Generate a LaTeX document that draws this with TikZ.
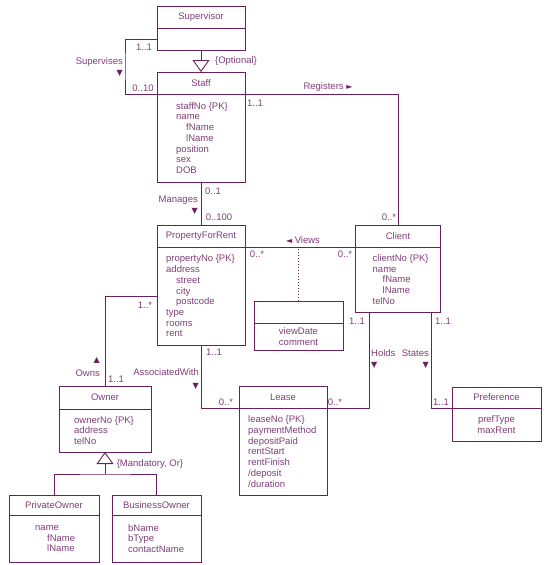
\documentclass[tikz,border=0pt]{standalone}
\usepackage{fontspec}
\setmainfont{Liberation Sans}
\newfontfamily\glyphfont{DejaVu Sans}
\usepackage{tikz}
\usetikzlibrary{arrows.meta, positioning}
\definecolor{umlline}{HTML}{6A1F5F}
\definecolor{umltext}{HTML}{7F3F78}
\newcommand{\tri}[1]{{\glyphfont\fontsize{8}{8}\selectfont\color{umlline}#1}}
\newcommand{\ind}{\hspace*{10pt}}

\begin{document}
\begin{tikzpicture}[
  x=1pt, y=-1pt,
  every node/.style={font=\fontsize{9.5}{10.7}\selectfont, text=umltext},
  classhead/.style n args={2}{draw=umlline, line width=1pt, outer sep=0pt, inner sep=0pt, minimum width=#1, minimum height=#2},
  classbody/.style n args={2}{draw=umlline, line width=1pt, outer sep=0pt, inner sep=0pt, minimum width=#1, minimum height=#2, align=center},
  attrs/.style={align=left, inner sep=0pt},
  mult/.style={inner sep=0pt},
  assocname/.style={inner sep=0pt},
  assoc/.style={draw=umlline, line width=0.9pt},
  generalise/.style={assoc, -{Triangle[open, width=17pt, length=12pt]}},
  viewlink/.style={draw=umlline, line width=1.2pt, dash pattern=on 1.5pt off 1.5pt}
]
\useasboundingbox (0,0) rectangle (546,565);

% classes
\node[classhead={88pt}{22pt}] (suphead) at (201,17) {Supervisor};
\node[classbody={88pt}{22pt}, below=0pt of suphead] (supbody) {};

\node[classhead={88pt}{22pt}] (staffhead) at (201,83) {Staff};
\node[classbody={88pt}{88pt}, below=0pt of staffhead] (staffbody) {};
\node[attrs, right=19pt of staffbody.west] (staffattrs) {staffNo \{PK\}\\name\\\ind fName\\\ind lName\\position\\sex\\DOB};

\node[classhead={88pt}{22pt}] (pfrhead) at (201,236) {PropertyForRent};
\node[classbody={88pt}{98pt}, below=0pt of pfrhead] (pfrbody) {};
\node[attrs, right=9pt of pfrbody.west] (pfrattrs) {propertyNo \{PK\}\\address\\\ind street\\\ind city\\\ind postcode\\type\\rooms\\rent};

\node[classhead={85pt}{22pt}] (clienthead) at (398,236) {Client};
\node[classbody={85pt}{65pt}, below=0pt of clienthead] (clientbody) {};
\node[attrs, right=17pt of clientbody.west] (clientattrs) {clientNo \{PK\}\\name\\\ind fName\\\ind lName\\telNo};

\node[classhead={89pt}{22pt}] (viewshead) at (298.5,312) {};
\node[classbody={89pt}{27pt}, below=0pt of viewshead] (viewsbody) {viewDate\\comment};

\node[classhead={88pt}{22pt}] (leasehead) at (283,397) {Lease};
\node[classbody={88pt}{87pt}, below=0pt of leasehead] (leasebody) {};
\node[attrs, right=9pt of leasebody.west] (leaseattrs) {leaseNo \{PK\}\\paymentMethod\\depositPaid\\rentStart\\rentFinish\\/deposit\\/duration};

\node[classhead={89pt}{21pt}] (prefhead) at (496.5,397.5) {Preference};
\node[classbody={89pt}{33pt}, below=0pt of prefhead] (prefbody) {prefType\\maxRent};

\node[classhead={92pt}{23pt}] (ownerhead) at (105,397.5) {Owner};
\node[classbody={92pt}{43pt}, below=0pt of ownerhead] (ownerbody) {};
\node[attrs, right=15pt of ownerbody.west] (ownerattrs) {ownerNo \{PK\}\\address\\telNo};

\node[classhead={90pt}{20pt}] (privhead) at (54,505) {PrivateOwner};
\node[classbody={90pt}{47pt}, below=0pt of privhead] (privbody) {};
\node[attrs, right=26pt of privbody.west] (privattrs) {name\\\hspace*{12pt}fName\\\hspace*{12pt}lName};

\node[classhead={89pt}{20pt}] (bushead) at (156.5,505) {BusinessOwner};
\node[classbody={89pt}{47pt}, below=0pt of bushead] (busbody) {};
\node[attrs, right=16pt of busbody.west] (busattrs) {bName\\bType\\contactName};

% connectors
\coordinate (supturn) at (125,66);
\draw[assoc] (supbody.west) -| (supturn) |- (staffhead.south west);
\draw[generalise] (supbody.south) -- (staffhead.north);
\draw[assoc] (staffhead.south east) -| (clienthead.north);
\draw[assoc] (staffbody.south) -- (pfrhead.north);
\draw[assoc] (pfrhead.south east) -- (clienthead.south west);
\draw[viewlink] (viewshead.north) -- (viewshead.north |- pfrhead.south east);
\draw[assoc] (pfrbody.west) -| (ownerhead.north);
\draw[assoc] (pfrbody.south) |- (leasehead.south west);
\coordinate[right=14pt of clientbody.south west] (holdsfoot);
\draw[assoc] (holdsfoot) |- (leasehead.south east);
\coordinate[left=9.5pt of clientbody.south east] (statesfoot);
\draw[assoc] (statesfoot) |- (prefhead.south west);
\coordinate[below=22pt of ownerbody.south] (genjoin);
\draw[generalise] (genjoin) -- (ownerbody.south);
\draw[assoc] (privhead.north) |- (genjoin) -| (bushead.north);

% association names and multiplicities
\node[mult] (m1) at (144,47) {1..1};
\node[mult] (m2) at (143,88) {0..10};
\node[assocname, anchor=east, align=right] (supervises) at (123,67) {Supervises\\\tri{▼}};
\node[assocname] (optional) at (236,61) {\{Optional\}};
\node[assocname] (registers) at (328,87) {Registers \tri{►}};
\node[mult] (m3) at (255,103) {1..1};
\node[mult] (m4) at (389,217) {0..*};
\node[mult] (m5) at (213,191) {0..1};
\node[assocname, anchor=east, align=right] (manages) at (198,205) {Manages\\\tri{▼}};
\node[mult] (m6) at (219,217) {0..100};
\node[assocname] (views) at (303,240) {\tri{◄} Views};
\node[mult] (m7) at (257,254) {0..*};
\node[mult] (m8) at (345,254) {0..*};
\node[mult] (m9) at (145,305) {1..*};
\node[assocname, anchor=east, align=right] (owns) at (100,367) {\tri{▲}\\[3pt]Owns};
\node[mult] (m10) at (116,379) {1..1};
\node[mult] (m11) at (214,352) {1..1};
\node[assocname, anchor=east, align=right] (assocwith) at (199,379) {AssociatedWith\\[2pt]\tri{▼}};
\node[mult] (m12) at (226,402) {0..*};
\node[mult] (m13) at (335,402) {0..*};
\node[mult] (m14) at (357,321) {1..1};
\node[mult] (m15) at (443,321) {1..1};
\node[mult] (m16) at (441,402) {1..1};
\node[assocname, anchor=west, align=left] (holds) at (371,359) {Holds\\\tri{▼}};
\node[assocname, anchor=east, align=right] (states) at (429,359) {States\\\tri{▼}};
\node[assocname] (mandatory) at (150,464) {\{Mandatory, Or\}};
\end{tikzpicture}
\end{document}
